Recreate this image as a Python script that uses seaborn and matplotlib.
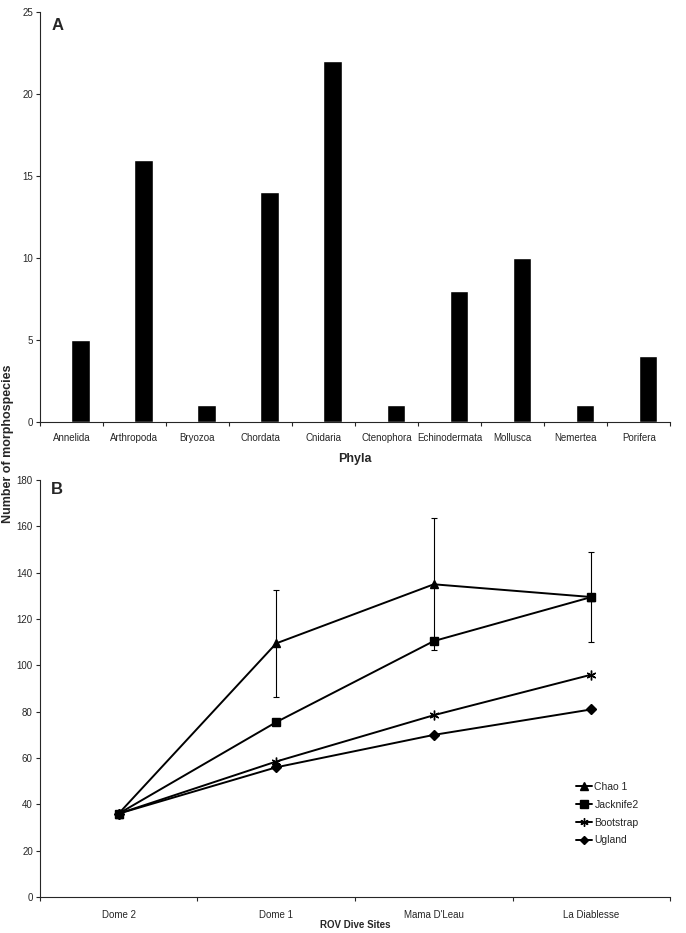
import matplotlib
matplotlib.use("Agg")
import matplotlib.pyplot as plt
import seaborn as sns
from matplotlib.ticker import FixedLocator

phyla = ["Annelida", "Arthropoda", "Bryozoa", "Chordata", "Cnidaria",
         "Ctenophora", "Echinodermata", "Mollusca", "Nemertea", "Porifera"]
morphospecies = [5, 16, 1, 14, 22, 1, 8, 10, 1, 4]

sites = ["Dome 2", "Dome 1", "Mama D'Leau", "La Diablesse"]
chao1 = [36, 109.5, 135, 129.5]
chao1_err = [0, 23, 28.5, 19.5]
jacknife2 = [36, 75.5, 110.5, 129.5]
bootstrap = [36, 58.5, 78.5, 96]
ugland = [36, 56, 70, 81]
estimators = ["Chao 1", "Jacknife2", "Bootstrap", "Ugland"]

sns.set_style("ticks")
plt.rcParams["font.family"] = ["Liberation Sans", "DejaVu Sans"]

fig = plt.figure(figsize=(6.86, 9.33), dpi=100)
ax_a = fig.add_axes([0.058, 0.548, 0.919, 0.439])
ax_b = fig.add_axes([0.058, 0.0385, 0.919, 0.447])

# panel A
sns.barplot(x=phyla, y=morphospecies, color="black", width=0.29,
            saturation=1, ax=ax_a)
for p in ax_a.patches:
    p.set_x(p.get_x() + 0.145)
ax_a.set_xlim(-0.5, len(phyla) - 0.5)
ax_a.set_ylim(0, 25)
ax_a.set_yticks(range(0, 26, 5))
ax_a.tick_params(axis="x", length=0, labelsize=7, pad=8)
ax_a.xaxis.set_minor_locator(FixedLocator([i - 0.5 for i in range(len(phyla) + 1)]))
ax_a.tick_params(axis="x", which="minor", length=3, width=0.8)
ax_a.tick_params(axis="y", labelsize=7, length=3, width=0.8, pad=2)
ax_a.set_xlabel("Phyla", fontsize=9, fontweight="bold", labelpad=7)
ax_a.text(0.018, 0.985, "A", transform=ax_a.transAxes, fontsize=12,
          fontweight="bold", va="top")
sns.despine(ax=ax_a)

# panel B
series = {"Chao 1": chao1, "Jacknife2": jacknife2,
          "Bootstrap": bootstrap, "Ugland": ugland}
markers = {"Chao 1": "^", "Jacknife2": "s", "Bootstrap": (6, 2, 0), "Ugland": "D"}
sizes = {"Chao 1": 6, "Jacknife2": 6, "Bootstrap": 7, "Ugland": 5}
for name in estimators:
    sns.lineplot(x=sites, y=series[name], marker=markers[name], color="black",
                 linewidth=1.4, markersize=sizes[name], markeredgecolor="black",
                 markeredgewidth=1.0, label=name, ax=ax_b)
ax_b.errorbar(range(len(sites)), chao1, yerr=chao1_err, fmt="none",
              ecolor="black", elinewidth=0.8, capsize=2, capthick=0.8)
ax_b.set_xlim(-0.5, len(sites) - 0.5)
ax_b.set_ylim(0, 180)
ax_b.set_yticks(range(0, 181, 20))
ax_b.tick_params(axis="x", length=0, labelsize=7, pad=9)
ax_b.xaxis.set_minor_locator(FixedLocator([i - 0.5 for i in range(len(sites) + 1)]))
ax_b.tick_params(axis="x", which="minor", length=3, width=0.8)
ax_b.tick_params(axis="y", labelsize=7, length=3, width=0.8, pad=2)
ax_b.set_xlabel("ROV Dive Sites", fontsize=7, fontweight="bold", labelpad=0)
ax_b.set_ylabel("")
ax_b.text(0.018, 0.995, "B", transform=ax_b.transAxes, fontsize=12,
          fontweight="bold", va="top")
leg = ax_b.legend(title=None, frameon=False, fontsize=7.5, loc="center left",
                  bbox_to_anchor=(0.85, 0.2), borderaxespad=0, borderpad=0,
                  handlelength=1.6, handletextpad=0.2, labelspacing=0.75,
                  markerscale=0.85)
sns.despine(ax=ax_b)

fig.text(0.003, 0.524, "Number of morphospecies", rotation=90, va="center",
         ha="left", fontsize=9, fontweight="bold")

fig.savefig("out.png", dpi=100)
